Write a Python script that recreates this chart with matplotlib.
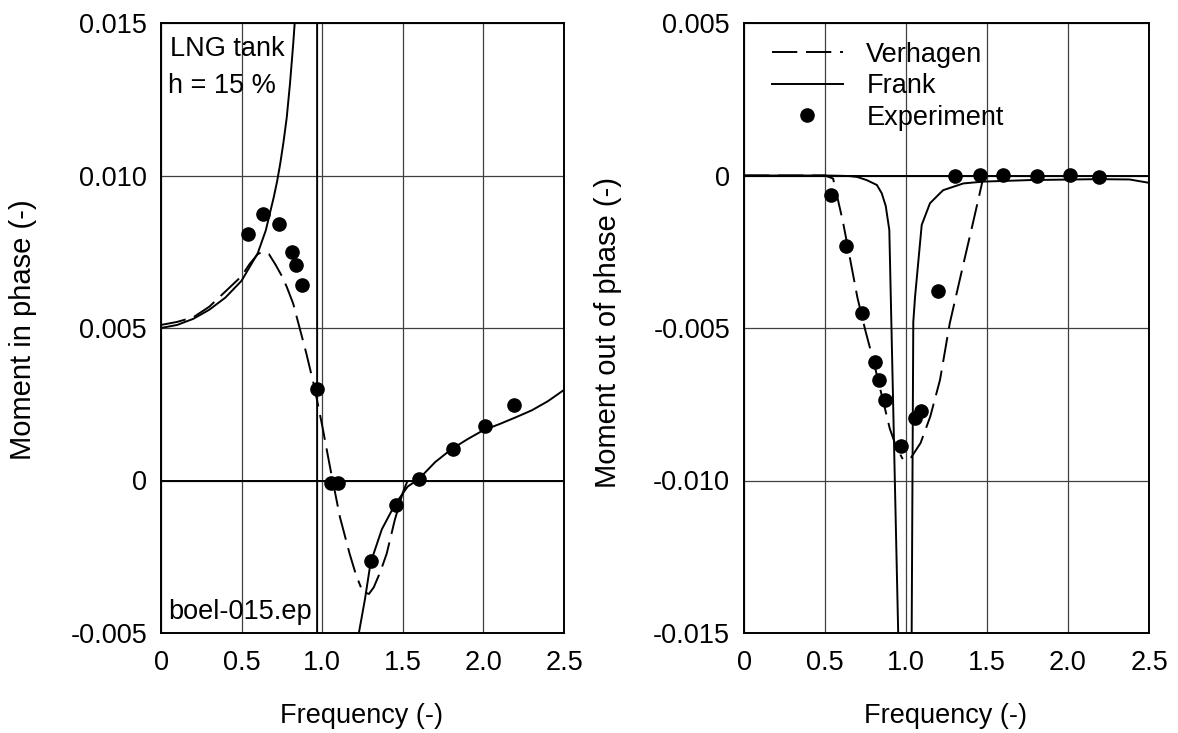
import numpy as np
import matplotlib
matplotlib.use("Agg")
import matplotlib.pyplot as plt

# measured points (same frequencies for both panels)
exp_freq = [0.54, 0.63, 0.73, 0.81, 0.835, 0.873, 0.97, 1.055, 1.095, 1.20,
            1.30, 1.455, 1.60, 1.81, 2.01, 2.19]
exp_in_phase = [0.00807, 0.00874, 0.0084, 0.00748, 0.00706, 0.00642, 0.00299,
                -0.00009, -0.00007, np.nan, -0.00263, -0.0008, 0.00005,
                0.00102, 0.00178, 0.00247]
exp_out_phase = [-0.00064, -0.00231, -0.00452, -0.00613, -0.00669, -0.00736,
                 -0.00887, -0.00796, -0.00773, -0.00378, -0.00001, 0.00001,
                 0.00001, -0.00001, 0.00001, -0.00006]

# Verhagen theory, in phase (two branches split by nan)
verh_in_freq = [0.0, 0.1, 0.2, 0.3, 0.4, 0.5, 0.55, 0.6, 0.63, 0.67, 0.71,
                0.75, 0.78, 0.82, 0.86, 0.9, 0.95, 1.0, 1.05, 1.11, 1.17,
                1.21, 1.24, np.nan, 1.27, 1.29, 1.32, 1.36, 1.4, 1.45, 1.5,
                1.53]
verh_in = [0.0051, 0.0052, 0.00535, 0.0057, 0.0062, 0.0067, 0.0071, 0.00742,
           0.0075, 0.00742, 0.00708, 0.0067, 0.00635, 0.0058, 0.0050, 0.0042,
           0.0031, 0.0018, 0.0004, -0.0012, -0.0024, -0.0031, -0.0035, np.nan,
           -0.00368, -0.00372, -0.0035, -0.0030, -0.0024, -0.0013, -0.0004,
           0.0]

# Frank theory, in phase (pole near 0.97)
frank_in_freq = [0.0, 0.1, 0.2, 0.3, 0.4, 0.5, 0.55, 0.6, 0.65, 0.7, 0.72,
                 0.74, 0.76, 0.78, 0.80, 0.82, 0.84, 0.87, 0.9, 0.94, 0.968,
                 0.969, 1.05, 1.15, 1.2, 1.224, 1.265, 1.3, 1.37, 1.45, 1.53,
                 1.6, 1.7, 1.8, 1.9, 2.0, 2.1, 2.2, 2.3, 2.4, 2.5]
frank_in = [0.0050, 0.0051, 0.0053, 0.0056, 0.0060, 0.00655, 0.0070, 0.00745,
            0.0082, 0.0093, 0.0098, 0.0104, 0.0111, 0.0119, 0.0130, 0.0143,
            0.0158, 0.0190, 0.026, 0.045, 0.5, -0.5, -0.04, -0.012, -0.0065,
            -0.0051, -0.0039, -0.0027, -0.0016, -0.0008, -0.0002, 0.00005,
            0.0006, 0.00102, 0.00135, 0.00165, 0.00185, 0.00207, 0.0023,
            0.0026, 0.00297]

# Verhagen theory, out of phase
verh_out_freq = [0.0, 0.3, 0.5, 0.55, 0.58, 0.61, 0.65, 0.7, 0.75, 0.8, 0.85,
                 0.9, 0.94, 0.98, np.nan, 1.03, 1.09, 1.15, 1.21, 1.27, 1.35,
                 1.42, 1.45, 1.48]
verh_out = [0.0, 0.0, 0.0, -0.0001, -0.0008, -0.0015, -0.0026, -0.0040,
            -0.0051, -0.0061, -0.0072, -0.0083, -0.0089, -0.0093, np.nan,
            -0.00926, -0.00877, -0.0079, -0.0067, -0.00485, -0.0030, -0.0014,
            -0.0007, 0.0]

# Frank theory, out of phase
frank_out_freq = [0.0, 0.5, 0.6, 0.654, 0.7, 0.757, 0.82, 0.85, 0.875, 0.897,
                  0.956, np.nan, 1.034, 1.045, 1.056, 1.097, 1.148, 1.21,
                  1.23, 1.354, 1.478, 1.765, 2.18, 2.38, 2.5]
frank_out = [0.0, 0.0, -0.00001, -0.00002, -0.00005, -0.00015, -0.00031,
             -0.00058, -0.0010, -0.00179, -0.016, np.nan, -0.016, -0.0048,
             -0.00397, -0.00162, -0.00091, -0.00058, -0.00048, -0.00026,
             -0.0002, -0.00015, -0.00012, -0.00013, -0.00024]

freq_ticks = [0, 0.5, 1.0, 1.5, 2.0, 2.5]
freq_ticklabels = ["0", "0.5", "1.0", "1.5", "2.0", "2.5"]
in_ticks = [-0.005, 0.0, 0.005, 0.010, 0.015]
in_ticklabels = ["-0.005", "0", "0.005", "0.010", "0.015"]
out_ticks = [-0.015, -0.010, -0.005, 0.0, 0.005]
out_ticklabels = ["-0.015", "-0.010", "-0.005", "0", "0.005"]

plt.rcParams["font.family"] = ["Liberation Sans", "DejaVu Sans"]
plt.rcParams["font.size"] = 19.5

W, H = 1178, 733
fig = plt.figure(figsize=(W / 100, H / 100), dpi=100)
ax1 = fig.add_axes([161 / W, 1 - 633 / H, 403 / W, 610 / H])
ax2 = fig.add_axes([744 / W, 1 - 633 / H, 405 / W, 610 / H])

dash = (0, (13, 4.5))
lw = 1.4


def style(ax, yticks, ylabels, ylim):
    ax.set_xlim(0, 2.5)
    ax.set_ylim(*ylim)
    ax.set_xticks(freq_ticks)
    ax.set_xticklabels(freq_ticklabels)
    ax.set_yticks(yticks)
    ax.set_yticklabels(ylabels)
    ax.tick_params(length=0, pad=10)
    ax.tick_params(axis="x", pad=12)
    ax.grid(True, color="0.25", lw=0.9)
    ax.axhline(0, color="black", lw=1.4, zorder=2)
    for sp in ax.spines.values():
        sp.set_linewidth(1.4)


style(ax1, in_ticks, in_ticklabels, (-0.005, 0.015))
ax1.plot(verh_in_freq, verh_in, color="black", lw=lw, linestyle=dash)
ax1.plot(frank_in_freq, frank_in, color="black", lw=lw)
ax1.plot(exp_freq, exp_in_phase, "o", color="black", ms=9.5, ls="none")
ax1.text(0.022, 0.946, "LNG tank", transform=ax1.transAxes, va="baseline")
ax1.text(0.018, 0.885, "h = 15 %", transform=ax1.transAxes, va="baseline")
ax1.text(0.017, 0.023, "boel-015.ep", transform=ax1.transAxes, va="baseline")

style(ax2, out_ticks, out_ticklabels, (-0.015, 0.005))
ax2.plot(verh_out_freq, verh_out, color="black", lw=lw, linestyle=dash,
         label="Verhagen")
ax2.plot(frank_out_freq, frank_out, color="black", lw=lw, label="Frank")
ax2.plot(exp_freq, exp_out_phase, "o", color="black", ms=9.5, ls="none",
         label="Experiment")
ax2.legend(loc="upper left", bbox_to_anchor=(0.068, 0.969), frameon=False,
           borderpad=0, borderaxespad=0, handlelength=2.65, handletextpad=0.85,
           labelspacing=0.2, numpoints=1)

fig.text(362 / W, 1 - 723 / H, "Frequency (-)", ha="center", va="baseline")
fig.text(946 / W, 1 - 723 / H, "Frequency (-)", ha="center", va="baseline")
fig.text(23 / W, 1 - 330 / H, "Moment in phase (-)", rotation=90,
         ha="center", va="center", fontsize=21)
fig.text(608 / W, 1 - 333 / H, "Moment out of phase (-)", rotation=90,
         ha="center", va="center", fontsize=21)

fig.savefig("out.png", dpi=100)
